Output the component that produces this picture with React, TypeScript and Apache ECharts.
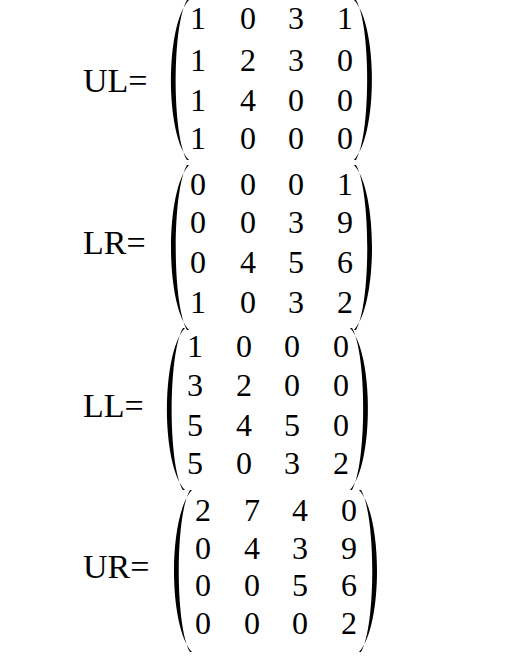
import * as echarts from 'echarts'
import { useEffect, useRef } from 'react'

const labels = ['UL=', 'LR=', 'LL=', 'UR=']
const matUL = [[1, 0, 3, 1], [1, 2, 3, 0], [1, 4, 0, 0], [1, 0, 0, 0]]
const matLR = [[0, 0, 0, 1], [0, 0, 3, 9], [0, 4, 5, 6], [1, 0, 3, 2]]
const matLL = [[1, 0, 0, 0], [3, 2, 0, 0], [5, 4, 5, 0], [5, 0, 3, 2]]
const matUR = [[2, 7, 4, 0], [0, 4, 3, 9], [0, 0, 5, 6], [0, 0, 0, 2]]
const matrices = [matUL, matLR, matLL, matUR]

// layout per matrix
const rowYs = [[18, 60, 100, 138], [184, 222, 262, 302], [346, 385, 425, 463], [510, 548, 585, 623]]
const colXs = [[198, 248, 296, 345], [198, 248, 296, 345], [195, 244, 292, 341], [203, 252, 300, 349]]
const parens = [[170, 354, 0, 160], [170, 354, 165, 330], [166, 350, 328, 490], [173, 359, 490, 652]]

echarts.graphic.registerShape('lparen', echarts.graphic.extendPath('M19 0 C -5 25 -5 135 19 160 L 17 160 C 2 135 2 25 17 0 Z', {}))
echarts.graphic.registerShape('rparen', echarts.graphic.extendPath('M0 0 C 24 25 24 135 0 160 L 2 160 C 17 135 17 25 2 0 Z', {}))

const font = '"Liberation Serif", serif'

function App() {
  const ref = useRef<HTMLDivElement>(null)

  useEffect(() => {
    if (!ref.current) return
    document.body.style.margin = '0'
    const chart = echarts.init(ref.current, null, { renderer: 'svg' })
    const elements: any[] = []
    matrices.forEach((m, k) => {
      const [lx, rx, top, bottom] = parens[k]
      const sy = (bottom - top) / 160
      const midY = (rowYs[k][1] + rowYs[k][2]) / 2
      elements.push({
        type: 'text', x: 83, y: midY,
        style: { text: labels[k], font: `34px ${font}`, fill: '#000', textVerticalAlign: 'middle' }
      })
      elements.push({ type: 'lparen', x: lx, y: top, scaleX: 1, scaleY: sy, style: { fill: '#000' } })
      elements.push({ type: 'rparen', x: rx, y: top, scaleX: 1, scaleY: sy, style: { fill: '#000' } })
      m.forEach((row, i) => {
        row.forEach((v, j) => {
          elements.push({
            type: 'text', x: colXs[k][j], y: rowYs[k][i],
            style: {
              text: String(v), font: `32px ${font}`, fill: '#000',
              textAlign: 'center', textVerticalAlign: 'middle'
            }
          })
        })
      })
    })
    chart.setOption({ animation: false, backgroundColor: '#fff', graphic: elements })
    return () => chart.dispose()
  }, [])

  return <div ref={ref} style={{ width: 522, height: 660 }} />
}

export default App
